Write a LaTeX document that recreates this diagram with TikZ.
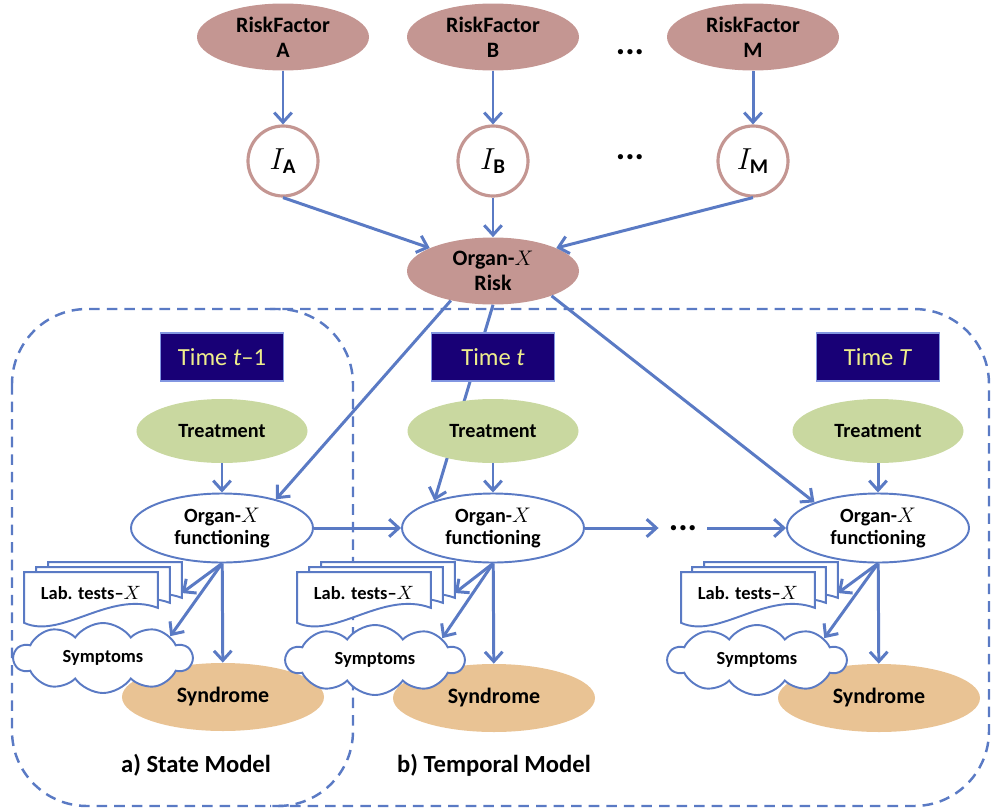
\documentclass[tikz,border=0pt]{standalone}
\usepackage{amsmath}
\usepackage{fontspec}
\setmainfont{Carlito}
\usetikzlibrary{shapes.geometric,shapes.symbols,arrows.meta}
\definecolor{riskred}{RGB}{196,150,146}
\definecolor{linkblue}{RGB}{90,122,196}
\definecolor{treatgreen}{RGB}{201,216,160}
\definecolor{syndtan}{RGB}{233,195,148}
\definecolor{timenavy}{RGB}{24,0,118}
\definecolor{timeedge}{RGB}{130,150,225}
\definecolor{timeyellow}{RGB}{238,238,140}
% stacked lab sheet with a wavy lower edge
\newcommand{\labdoc}[1]{\path[labline] (#1.north west) -- (#1.north east) -- (#1.south east) .. controls +(-48,-18) and +(37,17) .. ([yshift=-3mm]#1.south west) -- cycle;}

\begin{document}
\begin{tikzpicture}[x=0.2mm,y=-0.2mm,
  link/.style={draw=linkblue,line width=1.7pt,-{Straight Barb[length=5.5pt,width=10pt]}},
  dashbox/.style={draw=linkblue,line width=1.4pt,dash pattern=on 6pt off 4pt,rounded corners=15mm},
  factor/.style={ellipse,fill=riskred,minimum width=34.4mm,minimum height=13.4mm,inner sep=0pt,align=center,font=\fontsize{12.5}{14}\selectfont\bfseries},
  indic/.style={circle,draw=riskred,line width=1.8pt,fill=white,minimum size=14mm,inner sep=0pt,font=\fontsize{17}{17}\selectfont},
  timebox/.style={rectangle,fill=timenavy,draw=timeedge,line width=0.7pt,minimum width=24.6mm,minimum height=9.6mm,text=timeyellow,font=\fontsize{14}{16}\selectfont},
  treat/.style={ellipse,fill=treatgreen,minimum width=34.2mm,minimum height=12.8mm,inner sep=0pt,font=\fontsize{11.5}{13}\selectfont\bfseries},
  organ/.style={ellipse,draw=linkblue,line width=1.1pt,fill=white,minimum width=36.4mm,minimum height=13.8mm,inner sep=0pt,align=center,font=\fontsize{11.5}{13}\selectfont\bfseries},
  syndrome/.style={ellipse,fill=syndtan,minimum width=40.4mm,minimum height=13.6mm,inner sep=0pt,font=\fontsize{12.5}{14}\selectfont\bfseries},
  symptom/.style={cloud,cloud puffs=10,cloud puff arc=110,aspect=2.6,draw=linkblue,line width=1.1pt,fill=white,minimum width=35.6mm,minimum height=14mm,inner sep=0pt,font=\fontsize{10.5}{12}\selectfont\bfseries},
  labbox/.style={rectangle,minimum width=26.6mm,minimum height=7mm,inner sep=0pt},
  labline/.style={draw=linkblue,line width=1.1pt,fill=white},
  labtext/.style={font=\fontsize{10.5}{12}\selectfont\bfseries},
  dots/.style={font=\fontsize{20}{20}\selectfont\bfseries,inner xsep=2mm},
  caption/.style={font=\fontsize{14}{16}\selectfont\bfseries}]
\pgfmathsetmacro{\xa}{222}
\pgfmathsetmacro{\xb}{493}
\pgfmathsetmacro{\xc}{878}
\useasboundingbox (0,0) rectangle (991,809);
% frames of the two models
\draw[dashbox] (12,309) rectangle (989,806);
\draw[dashbox] (270,309) -- (353,309) -- (353,806) -- (270,806);
% risk factors
\node[factor] (rfA) at (283,37) {RiskFactor\\A};
\node[factor] (rfB) at (493,37) {RiskFactor\\B};
\node[factor] (rfM) at (753,37) {RiskFactor\\M};
\node[dots] (dotsR) at (630,52) {...};
\node[indic] (iA) at (283,161) {$I_{\text{\bfseries A}}$};
\node[indic] (iB) at (493,161) {$I_{\text{\bfseries B}}$};
\node[indic] (iM) at (753,161) {$I_{\text{\bfseries M}}$};
\node[dots] (dotsI) at (630,157) {...};
\node[factor] (riskO) at (493,271) {Organ-$X$\\Risk};
% organ functioning over time
\node[organ] (funA) at (\xa,528) {Organ-$X$\\functioning};
\node[organ] (funB) at (\xb,528) {Organ-$X$\\functioning};
\node[organ] (funC) at (\xc,528) {Organ-$X$\\functioning};
\node[dots] (dotsF) at (683,528) {...};
\draw[link] (riskO.south) -- (funB.155);
\node[timebox] (timeA) at (\xa,357) {Time \textit{t}--1};
\node[timebox] (timeB) at (\xb,357) {Time \textit{t}};
\node[timebox] (timeC) at (\xc,357) {Time \textit{T}};
\node[treat] (treatA) at (\xa,431) {Treatment};
\node[treat] (treatB) at (\xb,431) {Treatment};
\node[treat] (treatC) at (\xc,431) {Treatment};
\node[syndrome] (synA) at (\xa+1,697) {Syndrome};
\node[syndrome] (synB) at (\xb+1,698) {Syndrome};
\node[syndrome] (synC) at (\xc+1,698) {Syndrome};
% lab tests, three sheets each
\node[labbox] (labA3) at (\xa-107,580) {};
\node[labbox] (labA2) at (\xa-119,585) {};
\node[labbox] (labA1) at (\xa-131,590) {};
\node[labbox] (labB3) at (\xb-105,580) {};
\node[labbox] (labB2) at (\xb-117,585) {};
\node[labbox] (labB1) at (\xb-129,590) {};
\node[labbox] (labC3) at (\xc-107,580) {};
\node[labbox] (labC2) at (\xc-119,585) {};
\node[labbox] (labC1) at (\xc-130,590) {};
\labdoc{labA3} \labdoc{labA2} \labdoc{labA1}
\labdoc{labB3} \labdoc{labB2} \labdoc{labB1}
\labdoc{labC3} \labdoc{labC2} \labdoc{labC1}
\node[labtext] (labAt) at ([yshift=-0.6mm]labA1) {Lab. tests--$X$};
\node[labtext] (labBt) at ([yshift=-0.6mm]labB1) {Lab. tests--$X$};
\node[labtext] (labCt) at ([yshift=-0.6mm]labC1) {Lab. tests--$X$};
\node[symptom] (symA) at (\xa-119,658) {Symptoms};
\node[symptom] (symB) at (\xb-118,660) {Symptoms};
\node[symptom] (symC) at (\xc-121,660) {Symptoms};
\node[caption] (capA) at (196,765) {a) State Model};
\node[caption] (capB) at (494,765) {b) Temporal Model};
% links
\draw[link] (rfA) -- (iA);
\draw[link] (rfB) -- (iB);
\draw[link] (rfM) -- (iM);
\draw[link] (iA.south) -- (riskO.160);
\draw[link] (iB) -- (riskO);
\draw[link] (iM.south) -- (riskO.20);
\draw[link] (riskO.215) -- (funA.28);
\draw[link] (riskO.-23) -- (funC.158);
\draw[link] (treatA) -- (funA);
\draw[link] (treatB) -- (funB);
\draw[link] (treatC) -- (funC);
\draw[link] (funA) -- (funB);
\draw[link] (funB) -- (dotsF);
\draw[link] (dotsF) -- (funC);
\draw[link] (funA.south) -- (labA3.east |- labAt.center);
\draw[link] (funA.south) -- (symA.18);
\draw[link] (funA) -- (synA);
\draw[link] (funB.south) -- (labB3.east |- labBt.center);
\draw[link] (funB.south) -- (symB.18);
\draw[link] (funB) -- (synB);
\draw[link] (funC.south) -- (labC3.east |- labCt.center);
\draw[link] (funC.south) -- (symC.18);
\draw[link] (funC) -- (synC);
\end{tikzpicture}
\end{document}
